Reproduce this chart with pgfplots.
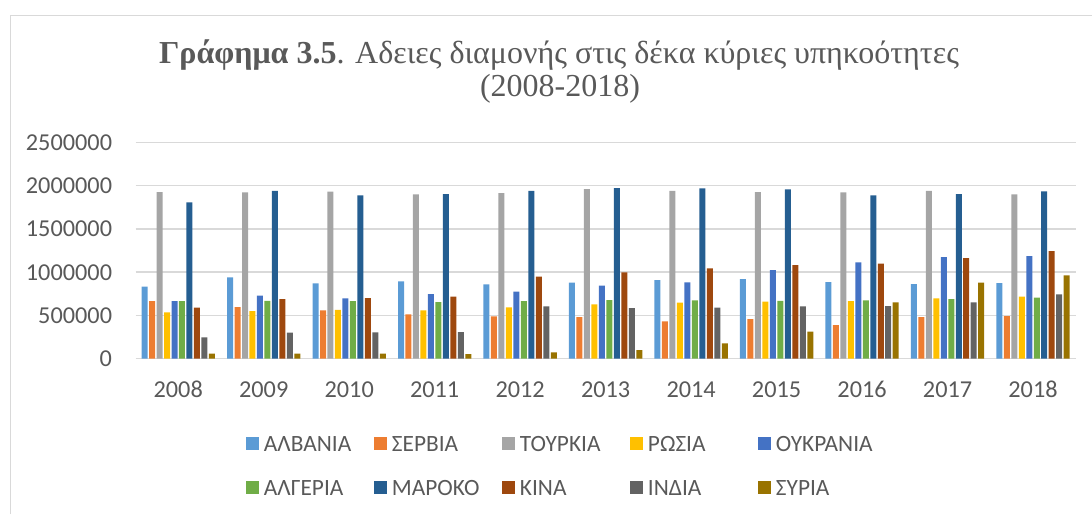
\documentclass[border=0pt]{standalone}
\usepackage{pgfplots}
\pgfplotsset{compat=1.18}
\usepackage{fontspec}
\setmainfont{Carlito}
\newfontfamily\tnr{Liberation Serif}
\definecolor{cA}{HTML}{5B9BD5}
\definecolor{cB}{HTML}{ED7D31}
\definecolor{cC}{HTML}{A5A5A5}
\definecolor{cD}{HTML}{FFC000}
\definecolor{cE}{HTML}{4472C4}
\definecolor{cF}{HTML}{70AD47}
\definecolor{cG}{HTML}{255E91}
\definecolor{cH}{HTML}{9E480E}
\definecolor{cI}{HTML}{636363}
\definecolor{cJ}{HTML}{997300}
\definecolor{txt}{HTML}{595959}
\definecolor{grd}{HTML}{D9D9D9}
\newcommand\legstrut{\rule[-10.99pt]{0pt}{33.2pt}}
\newcommand\legtxt[1]{\makebox[82.5pt][l]{\legstrut #1}}
\begin{document}
\begin{tikzpicture}[x=0.75pt,y=0.75pt]
\path[use as bounding box] (0,0) rectangle (1092,514);
\draw[grd, line width=1.1pt] (10.7,0) -- (10.7,498.3) -- (1092,498.3);
\node[anchor=base, text=txt, font=\tnr\fontsize{24}{28}\selectfont] at (559,450.5) {\textbf{Γράφημα 3.5}. Αδειες διαμονής στις δέκα κύριες υπηκοότητες};
\node[anchor=base, text=txt, font=\tnr\fontsize{24}{28}\selectfont] at (560,417) {(2008-2018)};
\begin{axis}[
  at={(101.625pt,116.475pt)}, anchor=south west,
  scale only axis, width=705.19pt, height=162.15pt,
  ybar=1.11pt, bar width=4.5pt,
  xmin=-0.5, xmax=10.5, ymin=0, ymax=2500000,
  xtick={0,...,10},
  xticklabels={2008,2009,2010,2011,2012,2013,2014,2015,2016,2017,2018},
  ytick={0,500000,1000000,1500000,2000000,2500000},
  scaled y ticks=false,
  yticklabel style={/pgf/number format/fixed,/pgf/number format/1000 sep={}, anchor=east, inner sep=0pt, xshift=-17.4pt},
  xticklabel style={anchor=base, inner sep=0pt, yshift=-29pt},
  /pgf/number format/assume math mode=true,
  tick label style={text=txt, font=\fontsize{18.2}{22}\selectfont},
  major tick length=0pt,
  axis line style={draw=none},
  ymajorgrids, major grid style={draw=grd, line width=1.1pt},
  every axis plot post/.append style={legend image code/.code={\fill (0pt,-4.875pt) rectangle (9.75pt,4.875pt);}},
  legend columns=5,
  legend cell align=left,
  legend style={at={(axis description cs:0.1175,-0.2905)}, anchor=north west, draw=none, fill=none,
    inner sep=0pt, outer sep=0pt, column sep=0pt, row sep=0pt,
    nodes={inner sep=0pt, outer sep=0pt, text depth=10.99pt, text height=22.2pt},
    /tikz/every odd column/.append style={column sep=3.75pt},
    font=\fontsize{17.5}{21}\selectfont, text=txt},
]
\addplot[fill=cA, draw=none] coordinates {(0,832000) (1,940000) (2,871000) (3,894000) (4,859000) (5,879000) (6,909000) (7,921000) (8,886000) (9,863000) (10,875000)};
\addlegendentry{\legtxt{ΑΛΒΑΝΙΑ}}
\addplot[fill=cB, draw=none] coordinates {(0,667000) (1,597000) (2,559000) (3,513000) (4,489000) (5,482000) (6,432000) (7,459000) (8,389000) (9,482000) (10,493000)};
\addlegendentry{\legtxt{ΣΕΡΒΙΑ}}
\addplot[fill=cC, draw=none] coordinates {(0,1927000) (1,1923000) (2,1931000) (3,1900000) (4,1915000) (5,1961000) (6,1942000) (7,1927000) (8,1923000) (9,1942000) (10,1900000)};
\addlegendentry{\legtxt{ΤΟΥΡΚΙΑ}}
\addplot[fill=cD, draw=none] coordinates {(0,536000) (1,551000) (2,566000) (3,559000) (4,593000) (5,628000) (6,647000) (7,659000) (8,667000) (9,697000) (10,717000)};
\addlegendentry{\legtxt{ΡΩΣΙΑ}}
\addplot[fill=cE, draw=none] coordinates {(0,667000) (1,728000) (2,697000) (3,748000) (4,775000) (5,844000) (6,882000) (7,1025000) (8,1114000) (9,1175000) (10,1187000)};
\addlegendentry{\legtxt{ΟΥΚΡΑΝΙΑ}}
\addplot[fill=cF, draw=none] coordinates {(0,667000) (1,670000) (2,667000) (3,655000) (4,667000) (5,678000) (6,674000) (7,670000) (8,674000) (9,690000) (10,705000)};
\addlegendentry{\legtxt{ΑΛΓΕΡΙΑ}}
\addplot[fill=cG, draw=none] coordinates {(0,1807000) (1,1942000) (2,1888000) (3,1904000) (4,1942000) (5,1973000) (6,1969000) (7,1958000) (8,1888000) (9,1904000) (10,1935000)};
\addlegendentry{\legtxt{ΜΑΡΟΚΟ}}
\addplot[fill=cH, draw=none] coordinates {(0,590000) (1,690000) (2,701000) (3,717000) (4,948000) (5,998000) (6,1044000) (7,1083000) (8,1098000) (9,1164000) (10,1245000)};
\addlegendentry{\legtxt{ΚΙΝΑ}}
\addplot[fill=cI, draw=none] coordinates {(0,247000) (1,301000) (2,304000) (3,308000) (4,605000) (5,586000) (6,590000) (7,605000) (8,609000) (9,651000) (10,744000)};
\addlegendentry{\legtxt{ΙΝΔΙΑ}}
\addplot[fill=cJ, draw=none] coordinates {(0,58000) (1,58000) (2,58000) (3,54000) (4,73000) (5,100000) (6,177000) (7,312000) (8,651000) (9,879000) (10,963000)};
\addlegendentry{\legtxt{ΣΥΡΙΑ}}
\end{axis}
\end{tikzpicture}
\end{document}
